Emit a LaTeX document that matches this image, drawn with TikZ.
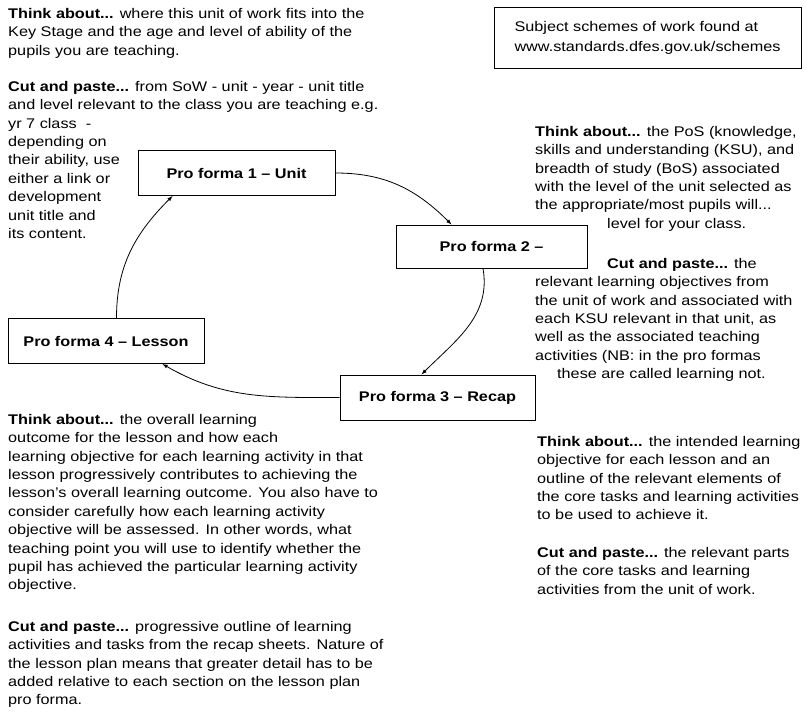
\documentclass[tikz,border=0pt]{standalone}
\usepackage{fontspec}
\setmainfont{Liberation Sans}[FakeStretch=1.16]

\begin{document}
\begin{tikzpicture}[x=1pt,y=1pt,
	forma/.style={draw,line width=1pt,font=\bfseries\fontsize{14}{16}\selectfont,minimum height=45pt,inner sep=0pt},
	note/.style={anchor=north west,align=left,inner sep=0pt,font=\fontsize{14}{18.4}\selectfont},
	link/.style={-latex,line width=0.8pt}]
	\useasboundingbox (0,0) rectangle (807,-713);
	\node[forma,minimum width=197pt] (unit) at (236.5,-173) {Pro forma 1 -- Unit};
	\node[forma,minimum width=191pt,minimum height=43pt] (ksu) at (491.5,-246.5) {Pro forma 2 --};
	\node[forma,minimum width=195pt] (recap) at (437.5,-397.5) {Pro forma 3 -- Recap};
	\node[forma,minimum width=196pt] (lesson) at (106,-341) {Pro forma 4 -- Lesson};
	\node[draw,line width=1pt,minimum width=307pt,minimum height=61pt,inner sep=0pt,align=left,font=\fontsize{14}{20}\selectfont] (site) at (647.5,-37.5) {Subject schemes of work found at\\www.standards.dfes.gov.uk/schemes};
	\draw[link] (unit.east) to[out=0,in=135] ([xshift=56pt]ksu.north west);
	\draw[link] ([xshift=-8.5pt]ksu.south) to[out=-80,in=45] ([xshift=82pt]recap.north west);
	\draw[link] (recap.west) to[out=180,in=-30] ([xshift=155pt]lesson.south west);
	\draw[link] ([xshift=109pt]lesson.north west) to[out=90,in=-135] ([xshift=35pt]unit.south west);
	\node[note] (where) at (8,-8) {\textbf{Think about...} where this unit of work fits into the\\Key Stage and the age and level of ability of the\\pupils you are teaching.};
	\node[note] (sow) at (8,-81) {\textbf{Cut and paste...} from SoW - unit - year - unit title\\and level relevant to the class you are teaching e.g.\\yr 7 class\ \ -\\depending on\\their ability, use\\either a link or\\development\\unit title and\\its content.};
	\node[note] (pos) at (535,-126) {\textbf{Think about...} the PoS (knowledge,\\skills and understanding (KSU), and\\breadth of study (BoS) associated\\with the level of the unit selected as\\the appropriate/most pupils will...\\\hspace*{72pt}level for your class.};
	\node[note] (objectives) at (535,-258) {\hspace*{72pt}\textbf{Cut and paste...} the\\relevant learning objectives from\\the unit of work and associated with\\each KSU relevant in that unit, as\\well as the associated teaching\\activities (NB: in the pro formas\\\hspace*{22pt}these are called learning not.};
	\node[note] (outcome) at (8,-414) {\textbf{Think about...} the overall learning\\outcome for the lesson and how each\\learning objective for each learning activity in that\\lesson progressively contributes to achieving the\\lesson's overall learning outcome. You also have to\\consider carefully how each learning activity\\objective will be assessed. In other words, what\\teaching point you will use to identify whether the\\pupil has achieved the particular learning activity\\objective.};
	\node[note] (outline) at (8,-621) {\textbf{Cut and paste...} progressive outline of learning\\activities and tasks from the recap sheets. Nature of\\the lesson plan means that greater detail has to be\\added relative to each section on the lesson plan\\pro forma.};
	\node[note] (intended) at (537,-436) {\textbf{Think about...} the intended learning\\objective for each lesson and an\\outline of the relevant elements of\\the core tasks and learning activities\\to be used to achieve it.};
	\node[note] (parts) at (537,-547) {\textbf{Cut and paste...} the relevant parts\\of the core tasks and learning\\activities from the unit of work.};
\end{tikzpicture}
\end{document}
